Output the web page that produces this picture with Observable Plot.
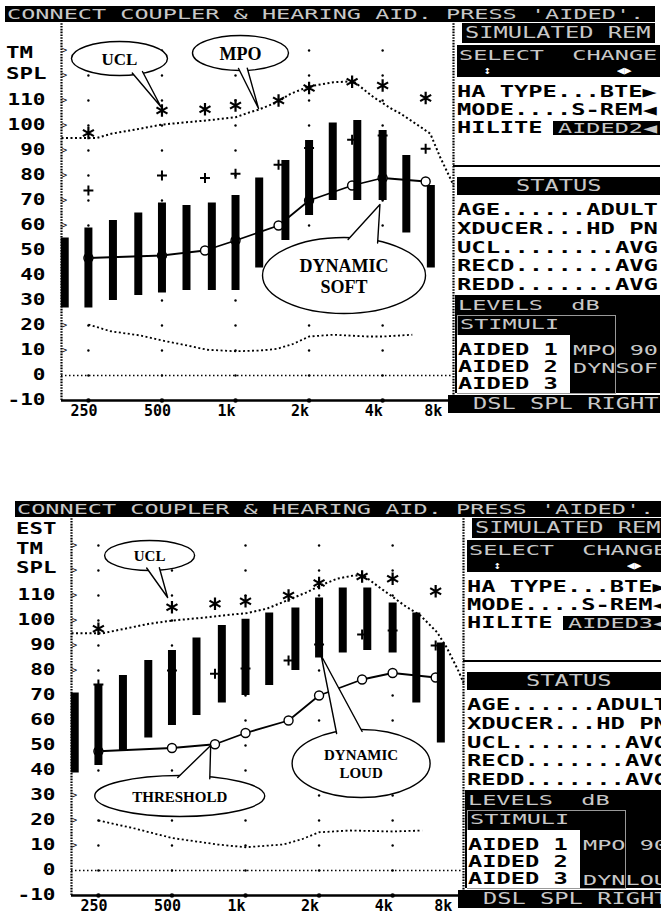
<!DOCTYPE html>
<html><head><meta charset="utf-8">
<script src="https://cdn.jsdelivr.net/npm/d3@7"></script>
<script src="https://cdn.jsdelivr.net/npm/@observablehq/plot@0.6"></script>
<style>
html,body{margin:0;padding:0;background:#fff;width:661px;height:917px;overflow:hidden;}
#page{position:relative;width:661px;height:917px;overflow:hidden;background:#fff;}
.panel{position:absolute;width:661px;height:420px;}
.panel svg{position:absolute;left:0;top:0;}
.blk{position:absolute;background:#000;}
.wht{position:absolute;background:#fff;}
.px{position:absolute;white-space:pre;font-family:"DejaVu Sans Mono",monospace;font-weight:bold;transform-origin:0 0;color:#000;}
.dim{color:#c8c8c8;font-weight:normal;}
.bright{color:#fff;}
</style></head><body><div id="page"></div>
<script>
// ---------- DATA ----------
const thirdOct = [200,250,315,400,500,630,800,1000,1250,1600,2000,2500,3150,4000,5000,6300];
const soft1Low  = [27,27,30,32,33,34,34,34,43,54,64,70,70,70,57,43];
const soft1High = [55,59,62,65,69,68,69,72,79,86,94,101,102,98,88,76];
const loud2Low  = [39,42,48,53,58,62,67,70,74,80,85,87,88,87,67,51];
const loud2High = [71,74,78,84,88,93,98,100.5,103,105,109,113,113,107,103,91];

const audFreq = [250,500,750,1000,1500,2000,3000,4000,6000];
const thr1 = [47,48,50,54,60,70,76,79,77.6];
const thr2 = [47.7,49,50.5,55,60,70,76.4,79,77.2];
const target1 = [74,80,79,80.7,84.3,91,94.3,96,90.7];
const target2 = [74.4,80,78.7,80.8,84,90.4,94.4,96,90];
const ucl1 = [97,106,106.5,108,110,115,117.5,116,111];
const ucl2 = [96.7,105.3,106.7,107.7,110,115,117.6,116.7,111.7];

const mpo1F = [194,270,310,385,495,630,815,1000,1120,1240,1480,1680,2000,2520,3040,3675,4330,4750,5740,6270,6880,7530,7800];
const mpo1  = [95,95,96.7,98.3,100.3,101.3,102.3,103.3,105,106.3,109.3,112.7,115.6,117.3,117.7,111.3,106.8,104.7,99.3,96.7,87.3,79.3,76];
const mpo2F = [194,260,320,404,505,650,811,1016,1221,1475,1784,2026,2368,2768,3045,3448,3930,4470,5200,6080,6650,7480,7800];
const mpo2  = [94.9,94.9,96.7,98.7,100,101,102,103,104.7,108,111.3,114,116.7,118,118,114,110,106,102,95.3,89.3,79.3,75];

const norm1F = [250,308,408,500,634,765,1000,1269,1485,1728,2000,2520,3464,4000,5290];
const norm1  = [20.4,17.7,16,14,12,10.3,9.7,10,10.7,12.7,15.6,16.3,15.6,15.6,16.3];
const norm2F = [250,345,500,769,1000,1424,1700,2000,2685,4000,5280];
const norm2  = [20,17,13,10.4,9.3,10.4,12.5,15.3,16,15.6,16];

const gridFreqs = [250,500,1000,2000,4000];
const gridLevels = [0,10,20,30,40,50,60,70,80,90,100,110,120,130];
const chevronLevels = [10,20,30,40,50,60,70,80,90,100,110,120,130];
const yTicks = [-10,0,10,20,30,40,50,60,70,80,90,100,110];
const xTickValues = [250,500,1000,2000,4000,8000];
const xTickLabels = ["250","500","1k","2k","4k","8k"];
const fMin = 194, fMax = 7800;

const callouts1 = [
  {label:"UCL", cx:335, cy:126.8, b1:[378,121], tip:[495,107.5], b2:[416,121.6]},
  {label:"MPO", cx:1048, cy:129, b1:[1029,122.8], tip:[1242,106.8], b2:[1117,122.9]},
  {label:"DYNAMIC\nSOFT", cx:2780, cy:40, b1:[2889,54.4], tip:[3900,68.4], b2:[3815,53]}
];
const callouts2 = [
  {label:"UCL", cx:405, cy:126, b1:[394,121], tip:[480,109.2], b2:[444,121.1]},
  {label:"THRESHOLD", cx:538, cy:29.8, b1:[528,37.2], tip:[720,50], b2:[714,36.7]},
  {label:"DYNAMIC\nLOUD", cx:2972, cy:42.8, b1:[2360,54.8], tip:[2040,86], b2:[3000,55.6]}
];

const headerText = "CONNECT COUPLER & HEARING AID. PRESS 'AIDED'.";
const remTitle = "SIMULATED REM";
const selectText = "SELECT  CHANGE";
const settingsLines = ["HA TYPE...BTE\u25B6", "MODE....S-REM\u25C0"];
const hiliteLabel = "HILITE";
const hiliteValues = ["AIDED2\u25C0", "AIDED3\u25C0"];
const statusTitle = "STATUS";
const statusLines = ["AGE......ADULT","XDUCER...HD PN","UCL........AVG","RECD.......AVG","REDD.......AVG"];
const levelsTitle = "LEVELS  dB";
const stimuliTitle = "STIMULI";
const stimuliLines = ["AIDED 1","AIDED 2","AIDED 3"];
const levelTags = [["MPO 90","DYNSOF",""],["MPO 90","","DYNLOUD"]];
const footerText = "DSL SPL RIGHT";
const yTitles = [["TM","SPL"],["EST","TM","SPL"]];

// ---------- STYLE / LAYOUT ----------
const calloutStyle = [
  [{rx:48,ry:17,fs:17},{rx:48,ry:17.5,fs:18},{rx:81.5,ry:38,fs:18}],
  [{rx:45,ry:15,fs:15},{rx:85,ry:20.5,fs:15},{rx:69,ry:34,fs:15}]
];
const panelOffsets = [[0,0],[10,495]];
const yTitleRows = [[53,74],[34,54,72.5]];

function ellipseSymbol(rx, ry) {
  const k = 0.5522847498;
  return {draw(ctx) {
    ctx.moveTo(rx, 0);
    ctx.bezierCurveTo(rx, ry*k, rx*k, ry, 0, ry);
    ctx.bezierCurveTo(-rx*k, ry, -rx, ry*k, -rx, 0);
    ctx.bezierCurveTo(-rx, -ry*k, -rx*k, -ry, 0, -ry);
    ctx.bezierCurveTo(rx*k, -ry, rx, -ry*k, rx, 0);
    ctx.closePath();
  }};
}

function chart(p) {
  const grid = gridFreqs.flatMap(f => gridLevels.map(l => ({f, l})));
  const bars = thirdOct.map((f, i) => ({f, lo: p.lo[i], hi: p.hi[i]}));
  const aud = audFreq.map((f, i) => ({f, thr: p.thr[i], tgt: p.tgt[i], ucl: p.ucl[i]}));
  const mpo = p.mpoF.map((f, i) => ({f, v: p.mpo[i]}));
  const norm = p.normF.map((f, i) => ({f, v: p.norm[i]}));
  const xLab = xTickValues.map((f, i) => ({f, label: xTickLabels[i]}));
  const calloutMarks = p.callouts.flatMap((c, i) => {
    const s = p.cstyle[i];
    return [
      Plot.dot([c], {x:"cx", y:"cy", r:1, symbol: ellipseSymbol(s.rx, s.ry), fill:"white", stroke:"black", strokeWidth:1.4}),
      Plot.line([c.b1, c.tip, c.b2], {x: d => d[0], y: d => d[1], fill:"white", stroke:"black", strokeWidth:1.4, curve:"linear"}),
      Plot.text([c], {x:"cx", y:"cy", text:"label", fontFamily:'"Liberation Serif", serif', fontWeight:"bold", fontSize:s.fs, lineHeight:1.2, fill:"black"})
    ];
  });
  const svg = Plot.plot({
    width: 661, height: 420,
    marginLeft: 61, marginRight: 208, marginTop: 25, marginBottom: 20,
    x: {type: "log", domain: [fMin, fMax], axis: null},
    y: {domain: [-10, 140]},
    style: {background: "transparent", fontFamily: '"DejaVu Sans Mono", monospace', fontWeight: "bold", fontSize: "15px", overflow: "visible", color: "black"},
    marks: [
      Plot.dot(grid, {x:"f", y:"l", r:1.2, fill:"black"}),
      Plot.text(chevronLevels, {x: fMin, y: d => d, text: () => ">", dx: 3, fontSize: 9, fontWeight: "normal"}),
      Plot.ruleY([0], {strokeDasharray:"1.5,2.5", strokeWidth:1.6}),
      Plot.ruleX([fMin, fMax], {y1:-10, y2:141, strokeDasharray:"1.6,1.2", strokeWidth:2.2}),
      Plot.ruleY([-10], {strokeWidth:2.4}),
      Plot.dot(gridFreqs, {x: d => d, y: -10, r: 2.2, fill: "black"}),
      Plot.line(norm, {x:"f", y:"v", strokeDasharray:"2,2.5", strokeWidth:1.8, strokeLinecap:"butt"}),
      Plot.line(mpo, {x:"f", y:"v", strokeDasharray:"2,2.5", strokeWidth:2, strokeLinecap:"butt"}),
      Plot.line(aud, {x:"f", y:"thr", strokeWidth:1.8}),
      Plot.dot(aud, {x:"f", y:"thr", r:4.5, fill:"white", stroke:"black", strokeWidth:1.4}),
      Plot.ruleX(bars, {x:"f", y1:"lo", y2:"hi", strokeWidth:8, stroke:"black", strokeLinecap:"butt"}),
      Plot.dot(aud, {x:"f", y:"tgt", symbol:"plus", r:3.3, stroke:"black", strokeWidth:2}),
      Plot.dot(aud, {x:"f", y:"ucl", symbol:"asterisk", r:6, stroke:"black", strokeWidth:2.2}),
      ...calloutMarks,
      Plot.axisY({ticks: yTicks, tickSize: 0, tickPadding: 16, label: null, tickFormat: d => String(d), fontSize: 15, fontWeight: "bold"}),
      Plot.text(xLab.slice(0, 5), {x:"f", y:-10, text:"label", textAnchor:"start", lineAnchor:"top", dx:-18, dy:5, fontSize:15, fontWeight:"bold", ariaLabel:"xlab"}),
      Plot.text(xLab.slice(5), {x:"f", y:-10, text:"label", textAnchor:"start", lineAnchor:"top", dx:-32, dy:5, fontSize:15, fontWeight:"bold", ariaLabel:"xlab"})
    ]
  });
  d3.select(svg).selectAll('g[aria-label="y-axis tick label"] text, g[aria-label="xlab"] text')
    .attr("transform", function() { return (this.getAttribute("transform") || "") + " scale(1.4,1)"; });
  return svg;
}

function blk(parent, x, y, w, h, cls = "blk") {
  const d = document.createElement("div");
  d.className = cls;
  Object.assign(d.style, {left: x + "px", top: y + "px", width: w + "px", height: h + "px"});
  parent.appendChild(d);
  return d;
}
function txt(parent, x, yc, s, size = 15, sx = 1.58, cls = "") {
  const d = document.createElement("div");
  d.className = "px " + cls;
  d.textContent = s;
  Object.assign(d.style, {left: x + "px", top: (yc - 0.48 * size) + "px", fontSize: size + "px", lineHeight: size + "px", transform: `scaleX(${sx})`});
  parent.appendChild(d);
  return d;
}

const page = document.getElementById("page");
const panelsData = [
  {lo: soft1Low, hi: soft1High, thr: thr1, tgt: target1, ucl: ucl1, mpoF: mpo1F, mpo: mpo1, normF: norm1F, norm: norm1, callouts: callouts1},
  {lo: loud2Low, hi: loud2High, thr: thr2, tgt: target2, ucl: ucl2, mpoF: mpo2F, mpo: mpo2, normF: norm2F, norm: norm2, callouts: callouts2}
];

panelsData.forEach((p, k) => {
  p.cstyle = calloutStyle[k];
  const el = document.createElement("div");
  el.className = "panel";
  el.style.left = panelOffsets[k][0] + "px";
  el.style.top = panelOffsets[k][1] + "px";
  page.appendChild(el);
  el.appendChild(chart(p));

  // header
  blk(el, 5, 6, 650, 16);
  txt(el, 7, 14, headerText, 14, 1.68, "dim");
  // y titles
  yTitles[k].forEach((t, i) => txt(el, 6, yTitleRows[k][i], t, 16, 1.4));
  // simulated REM
  blk(el, 462, 23, 193, 20);
  txt(el, 465, 33, remTitle, 15, 1.58, "dim");
  // select / change
  blk(el, 457, 45, 203, 32);
  txt(el, 459, 55, selectText, 14, 1.68, "dim");
  txt(el, 484, 70.5, "\u2195", 11, 1.0, "bright");
  txt(el, 617, 70.5, "\u25C0\u25B6", 11, 1.1, "bright");
  // settings
  txt(el, 457, 92.5, settingsLines[0]);
  txt(el, 457, 110.5, settingsLines[1]);
  txt(el, 457, 128, hiliteLabel);
  blk(el, 553, 121, 107, 14);
  txt(el, 558, 128, hiliteValues[k], 14, 1.68, "dim");
  blk(el, 453, 165, 207, 2);
  // status
  blk(el, 457, 177, 203, 18);
  txt(el, 516, 186, statusTitle, 15, 1.58, "dim");
  statusLines.forEach((s, i) => txt(el, 457, 210 + i * 18.6, s, 16, 1.49));
  // levels block
  blk(el, 455, 295, 205, 98);
  txt(el, 458, 305, levelsTitle, 14, 1.68, "dim");
  const box = blk(el, 457, 315, 157, 77, "wht");
  Object.assign(box.style, {background: "transparent", border: "1px solid #999"});
  txt(el, 460, 324, stimuliTitle, 14, 1.68, "dim");
  blk(el, 457, 335, 113, 58, "wht");
  const rowsY = [350, 367.5, 384.5];
  stimuliLines.forEach((s, i) => txt(el, 458, rowsY[i], s, 15, 1.58));
  levelTags[k].forEach((s, i) => { if (s) txt(el, 573, rowsY[i], s, 14, 1.68, "dim"); });
  // footer
  blk(el, 448, 395, 212, 18);
  txt(el, 473, 404, footerText, 15, 1.58, "dim");
});
</script></body></html>
